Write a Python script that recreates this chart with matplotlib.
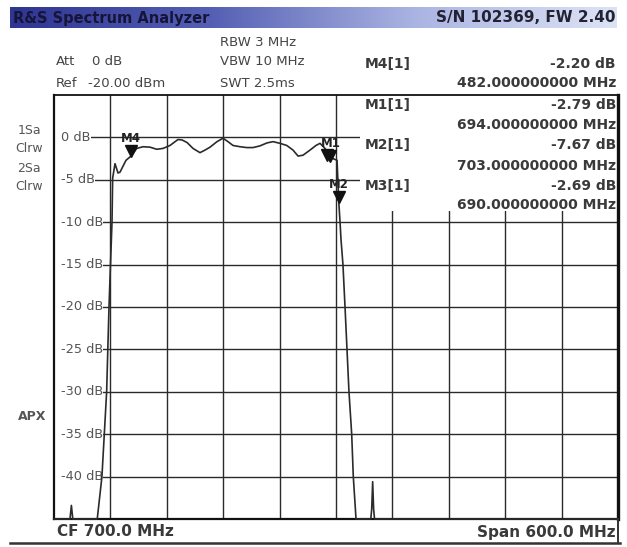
import matplotlib.pyplot as plt
import matplotlib.transforms as mtransforms
from matplotlib.colors import LinearSegmentedColormap
from matplotlib.patches import Rectangle
import numpy as np

# trace (MHz, dB)
trace_freq = [400, 417, 418.5, 420, 446, 451, 456, 458.5, 461.7, 462.4, 464.9,
              468.1, 470.2, 476.6, 482, 488, 494.7, 502.1, 509.3, 516, 523.4,
              531.9, 536.2, 541.5, 547.9, 555.3, 560.6, 566, 573.4, 579.8, 585.1,
              590.4, 597.9, 605, 611.7, 619.1, 626.6, 633, 640.4, 647.6, 654.3,
              659.6, 664.9, 672.3, 678.7, 683, 688.3, 692.6, 696.8, 701.1, 703,
              704.3, 705.3, 707.4, 709.6, 711.7, 713.8, 716.7, 718.4, 721.3, 737,
              738, 739, 740, 741, 1000]
trace_level = [-45, -45, -43.4, -45, -45, -40, -30, -20, -10, -4.8, -3.1,
               -4.2, -4.1, -2.7, -2.2, -1.3, -1.1, -1.15, -1.4, -1.3, -0.95,
               -0.25, -0.3, -0.6, -1.3, -1.8, -1.5, -1.15, -0.5, -0.1, -0.5,
               -0.95, -1.1, -1.2, -1.2, -1.0, -0.65, -0.5, -0.7, -0.95, -1.5,
               -2.2, -2.1, -1.5, -0.95, -0.7, -1.3, -2.1, -2.5, -2.7, -7.67,
               -10, -12, -15, -20, -25, -30, -35, -40, -45, -45,
               -43.8, -40.6, -43.8, -45, -45]

marker_names = ['M4', 'M1', 'M2', 'M3']
marker_freq = [482, 694, 703, 690]
marker_level = [-2.20, -2.79, -7.67, -2.69]
marker_show_label = [True, True, True, False]

db_ticks = [0, -5, -10, -15, -20, -25, -30, -35, -40]
freq_grid = [460, 520, 580, 640, 700, 760, 820, 880, 940]
trace_info = ['1Sa', 'Clrw', '2Sa', 'Clrw']

W, H = 627, 547
TXT = '#3a3a3a'


def fx(px):
    return px / W


def fy(py):
    return 1 - py / H


fig = plt.figure(figsize=(W / 100, H / 100), dpi=100)
fig.patch.set_facecolor('white')

# title bar with gradient
bar = fig.add_axes([fx(10), fy(28), fx(617) - fx(10), 21 / H])
cmap = LinearSegmentedColormap.from_list('rs', ['#2f3592', '#5560b4', '#aab4e2', '#dde3f5'])
bar.imshow(np.linspace(0, 1, 256)[None, :], aspect='auto', cmap=cmap)
bar.axis('off')
fig.text(fx(13), fy(18), 'R&S Spectrum Analyzer', fontsize=10.5, fontweight='bold',
         color='#15153a', va='center')
fig.text(fx(615), fy(18), 'S/N 102369, FW 2.40', fontsize=11, fontweight='bold',
         color='#222233', va='center', ha='right')

# setting header
hdr = dict(fontsize=9.5, color='#444444', va='center')
fig.text(fx(220), fy(42), 'RBW 3 MHz', **hdr)
fig.text(fx(56), fy(62), 'Att', **hdr)
fig.text(fx(92), fy(62), '0 dB', **hdr)
fig.text(fx(220), fy(62), 'VBW 10 MHz', **hdr)
fig.text(fx(56), fy(83), 'Ref', **hdr)
fig.text(fx(88), fy(83), '-20.00 dBm', **hdr)
fig.text(fx(220), fy(83), 'SWT 2.5ms', **hdr)

# plot area
ax = fig.add_axes([fx(54), fy(519), (618 - 54) / W, (519 - 95) / H])
ax.set_xlim(400, 1000)
ax.set_ylim(-45, 5)
ax.set_xticks([])
ax.set_yticks([])
for side, lw in [('left', 1.6), ('top', 1.3), ('right', 2.4), ('bottom', 1.6)]:
    ax.spines[side].set_linewidth(lw)
    ax.spines[side].set_color('#111111')

for f in freq_grid:
    ax.axvline(f, color='#2a2a2a', lw=1.0, zorder=1)
for d in db_ticks:
    ax.axhline(d, xmin=0.012, color='#2a2a2a', lw=1.0, zorder=1)
    ax.text(407, d, f'{d} dB', fontsize=9.3, color='#555555', va='center', ha='left',
            zorder=4, bbox=dict(facecolor='white', edgecolor='none', pad=0.5))

# marker table area hides the grid
ax.add_patch(Rectangle((725.5, -8.7), 274.5, 13.7, facecolor='white', edgecolor='none', zorder=2))

ax.plot(trace_freq, trace_level, color='#2b2b2b', lw=1.2, zorder=6, clip_on=False)

tri = mtransforms.offset_copy(ax.transData, fig=fig, x=0, y=4, units='points')
for name, f, lv, show in zip(marker_names, marker_freq, marker_level, marker_show_label):
    ax.plot(f, lv, marker='v', ms=8, color='#111111', transform=tri, zorder=7)
    if show:
        ax.annotate(name, (f, lv), xytext=(0, 13), textcoords='offset points',
                    ha='center', va='center', fontsize=8.5, fontweight='bold',
                    color='#222222', zorder=7)

# marker table
rows_y = [(64, 83), (105, 125), (145, 166), (186, 205)]
tab = dict(fontsize=10, fontweight='bold', color=TXT, va='center')
for name, f, lv, (y1, y2) in zip(marker_names, marker_freq, marker_level, rows_y):
    fig.text(fx(365), fy(y1), f'{name}[1]', **tab)
    fig.text(fx(616), fy(y1), f'{lv:.2f} dB', ha='right', **tab)
    fig.text(fx(616), fy(y2), f'{f:.9f} MHz', ha='right', **tab)

# trace info on the left
for lab, y in zip(trace_info, [131, 149, 168, 186]):
    fig.text(fx(29), fy(y), lab, fontsize=9, color='#555555', ha='center', va='center')
fig.text(fx(32), fy(417), 'APX', fontsize=9, fontweight='bold', color='#555555',
         ha='center', va='center')

# footer
fig.text(fx(57), fy(532), 'CF 700.0 MHz', fontsize=11, fontweight='bold', color=TXT, va='center')
fig.text(fx(616), fy(532), 'Span 600.0 MHz', fontsize=11, fontweight='bold', color=TXT,
         va='center', ha='right')
fig.add_artist(plt.Line2D([fx(10), fx(620)], [fy(543), fy(543)], color='#333333', lw=1.8))
fig.add_artist(plt.Line2D([fx(618), fx(618)], [fy(519), fy(543)], color='#333333', lw=1.4))

fig.savefig('out.png', dpi=100)
